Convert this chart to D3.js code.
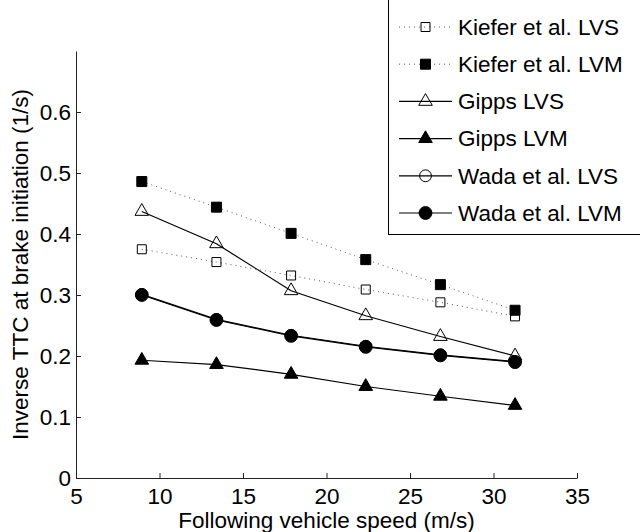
<!DOCTYPE html>
<html>
<head>
<meta charset="utf-8">
<script src="https://cdn.jsdelivr.net/npm/d3@7"></script>
<style>
  body { margin: 0; background: #fff; }
  svg { display: block; font-family: "Liberation Sans", Arial, Helvetica, sans-serif; }
</style>
</head>
<body>
<div class="chart"></div>
<script>
// following vehicle speed (m/s): 20..70 mph
const speeds = [8.94, 13.41, 17.88, 22.35, 26.82, 31.29];
const kieferLVS = [0.375, 0.354, 0.332, 0.309, 0.288, 0.265];
const kieferLVM = [0.486, 0.444, 0.401, 0.358, 0.317, 0.275];
const gippsLVS = [0.437, 0.384, 0.307, 0.266, 0.232, 0.200];
const gippsLVM = [0.193, 0.186, 0.170, 0.150, 0.134, 0.119];
const wadaLVS = [0.301, 0.260, 0.234, 0.216, 0.202, 0.191];
const wadaLVM = [0.300, 0.259, 0.233, 0.215, 0.201, 0.190];
const xTicks = [5, 10, 15, 20, 25, 30, 35];
const yTicks = [0, 0.1, 0.2, 0.3, 0.4, 0.5, 0.6];

const series = [
  { name: 'Kiefer et al. LVS', values: kieferLVS, dotted: true, shape: d3.symbolSquare, size: 81, filled: false },
  { name: 'Kiefer et al. LVM', values: kieferLVM, dotted: true, shape: d3.symbolSquare, size: 100, filled: true },
  { name: 'Gipps LVS', values: gippsLVS, dotted: false, shape: d3.symbolTriangle, size: 80, filled: false },
  { name: 'Gipps LVM', values: gippsLVM, dotted: false, shape: d3.symbolTriangle, size: 80, filled: true },
  { name: 'Wada et al. LVS', values: wadaLVS, dotted: false, shape: d3.symbolCircle, size: 110, filled: false },
  { name: 'Wada et al. LVM', values: wadaLVM, dotted: false, shape: d3.symbolCircle, size: 130, filled: true }
];

function drawChart() {
  const w = 640;
  const h = 532;
  const margin = { top: 51, right: 63, bottom: 54, left: 76 };
  const fontSize = '22.5px';

  const xScale = d3.scaleLinear()
    .domain([5, 35])
    .range([margin.left, w - margin.right]);
  const yScale = d3.scaleLinear()
    .domain([0, 0.7])
    .range([h - margin.bottom, margin.top]);

  const svg = d3.select('.chart')
    .append('svg')
    .attr('width', w)
    .attr('height', h);

  svg.append('g')
    .attr('class', 'x-axis')
    .attr('transform', `translate(0, ${h - margin.bottom})`)
    .call(d3.axisBottom(xScale).tickValues(xTicks).tickSizeInner(-5).tickSizeOuter(0).tickPadding(10));

  svg.append('g')
    .attr('class', 'y-axis')
    .attr('transform', `translate(${margin.left}, 0)`)
    .call(d3.axisLeft(yScale).tickValues(yTicks).tickFormat(d3.format('')).tickSizeInner(-5).tickSizeOuter(0).tickPadding(5));

  svg.selectAll('.x-axis .domain, .y-axis .domain, .tick line')
    .attr('stroke', '#222');
  svg.selectAll('.tick text')
    .attr('fill', '#000')
    .style('font-size', fontSize);

  svg.append('text')
    .attr('x', (margin.left + w - margin.right) / 2)
    .attr('y', 528)
    .attr('text-anchor', 'middle')
    .style('font-size', fontSize)
    .text('Following vehicle speed (m/s)');

  svg.append('text')
    .attr('transform', 'rotate(-90)')
    .attr('x', -(margin.top + h - margin.bottom) / 2)
    .attr('y', 28)
    .attr('text-anchor', 'middle')
    .style('font-size', fontSize)
    .text('Inverse TTC at brake initiation (1/s)');

  const line = d3.line()
    .x((d, i) => xScale(speeds[i]))
    .y((d) => yScale(d));

  function styleLine(sel, s) {
    sel.attr('fill', 'none')
      .attr('stroke', s.dotted ? '#555' : '#000')
      .attr('stroke-width', s.dotted ? 1 : 1.2)
      .attr('stroke-dasharray', s.dotted ? '1,4' : null);
  }

  function styleMarker(sel, s) {
    sel.attr('d', d3.symbol().type(s.shape).size(s.size))
      .attr('fill', s.filled ? '#000' : 'none')
      .attr('stroke', '#000')
      .attr('stroke-width', 1);
  }

  series.forEach((s) => {
    const g = svg.append('g').attr('class', 'series');
    g.append('path')
      .datum(s.values)
      .attr('d', line)
      .call(styleLine, s);
    g.selectAll('path.marker')
      .data(s.values)
      .enter()
      .append('path')
      .attr('class', 'marker')
      .attr('transform', (d, i) => `translate(${xScale(speeds[i])}, ${yScale(d)})`)
      .call(styleMarker, s);
  });

  // legend, cut off by the top and right edges like the original
  const legend = svg.append('g').attr('class', 'legend');
  legend.append('rect')
    .attr('x', 388.5)
    .attr('y', -5)
    .attr('width', 270)
    .attr('height', 239.5)
    .attr('fill', '#fff')
    .attr('stroke', '#000')
    .attr('stroke-width', 1);

  series.forEach((s, i) => {
    const y = 27 + i * 37.2;
    const row = legend.append('g').attr('transform', `translate(0, ${y})`);
    row.append('line')
      .attr('x1', 399)
      .attr('x2', 452)
      .call(styleLine, s);
    row.append('path')
      .attr('transform', 'translate(425.5, 0)')
      .call(styleMarker, s);
    row.append('text')
      .attr('x', 458)
      .attr('dy', '0.35em')
      .style('font-size', fontSize)
      .text(s.name);
  });
}

drawChart();
</script>
</body>
</html>
